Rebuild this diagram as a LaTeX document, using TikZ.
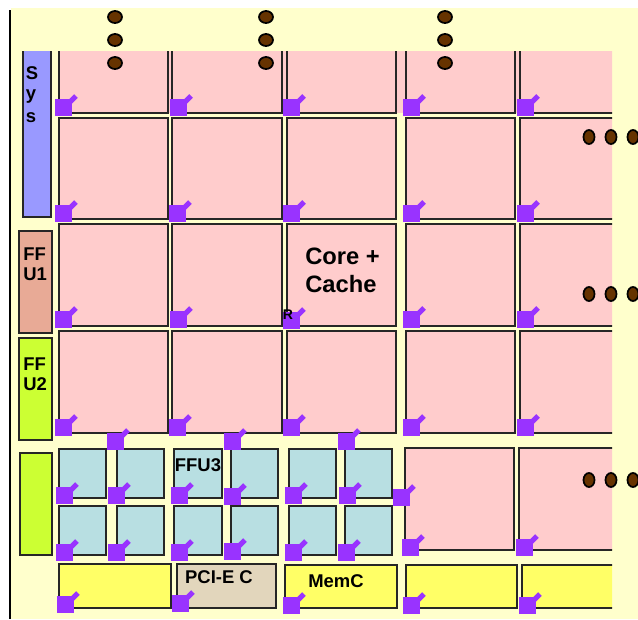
\documentclass[tikz,border=0pt]{standalone}
\usepackage{fontspec}
\setmainfont{Liberation Sans}
\usepackage{tikz}
\definecolor{dieCream}{HTML}{FFFFCC}
\definecolor{corePink}{HTML}{FFCCCC}
\definecolor{sysBlue}{HTML}{9999FF}
\definecolor{ffuSalmon}{HTML}{E8AA96}
\definecolor{ffuLime}{HTML}{CCFF33}
\definecolor{tileBlue}{HTML}{B8DFE2}
\definecolor{ctrlYellow}{HTML}{FFFF66}
\definecolor{pciTan}{HTML}{E2D6BC}
\definecolor{routerPurple}{HTML}{9933FF}
\definecolor{dotBrown}{HTML}{663300}

\begin{document}
\begin{tikzpicture}[
  x=0.02cm, y=-0.02cm,
  block/.style={draw=black!85, line width=1.15pt},
  stub/.style={draw=routerPurple, line width=2.9pt},
  dot/.style={draw=black, fill=dotBrown, line width=1pt},
  label/.style={font=\fontsize{10.5}{11.5}\selectfont\bfseries, text=black, inner sep=0pt, align=left},
  biglabel/.style={font=\fontsize{13.5}{15.8}\selectfont\bfseries, text=black, inner sep=0pt, align=left}
]
  \useasboundingbox (0,0) rectangle (638,619);
  \fill[dieCream] (11,8) rectangle (638,619);
  \draw[black, line width=1pt] (10,10) -- (10,619);

  % Everything cut off by the window
  \begin{scope}
    \clip (11,51) rectangle (612,619);
    \fill[corePink] (59,51) rectangle (612,113);
    \foreach \xa/\xb in {59/168,172/282,287/396,406/515,520/640} {
      \filldraw[block, fill=corePink] (\xa,30) rectangle (\xb,113);
      \filldraw[block, fill=corePink] (\xa,118) rectangle (\xb,219);
      \filldraw[block, fill=corePink] (\xa,224) rectangle (\xb,326);
      \filldraw[block, fill=corePink] (\xa,331) rectangle (\xb,433);
    }
    \foreach \xa/\xb in {405/514,519/640} {
      \filldraw[block, fill=corePink] (\xa,448) rectangle (\xb,550);
    }
    \filldraw[block, fill=sysBlue] (23,30) rectangle (51,217);
    \filldraw[block, fill=ctrlYellow] (406,565) rectangle (517,608);
    \filldraw[block, fill=ctrlYellow] (522,565) rectangle (640,608);
  \end{scope}

  % Side blocks
  \filldraw[block, fill=ffuSalmon] (19,231) rectangle (52,333);
  \filldraw[block, fill=ffuLime] (19,338) rectangle (52,440);
  \filldraw[block, fill=ffuLime] (20,453) rectangle (52,555);

  % FFU3 tiles
  \foreach \xa/\xb in {59/106,117/164,174/222,231/278,289/336,345/392} {
    \filldraw[block, fill=tileBlue] (\xa,449) rectangle (\xb,498);
    \filldraw[block, fill=tileBlue] (\xa,506) rectangle (\xb,555);
  }

  % Controllers
  \filldraw[block, fill=ctrlYellow] (59,564) rectangle (171,608);
  \filldraw[block, fill=pciTan] (177,564) rectangle (276,608);
  \filldraw[block, fill=ctrlYellow] (285,565) rectangle (397,608);

  % Routers
  \foreach \x/\y in {55/99,170/99,283/99,403/99,517/99,
                     55/205,169/205,283/205,403/205,517/205,
                     55/311,170/311,283/312,403/311,517/311,
                     55/419,169/419,283/419,403/419,517/419,
                     107/433,224/433,338/433,
                     56/487,108/487,171/487,224/488,285/487,339/487,
                     56/544,108/544,171/544,224/543,285/544,338/544,
                     393/489,402/539,516/539,
                     57/596,172/595,283/597,403/597,519/597} {
    \draw[stub] (\x+13,\y+5) -- (\x+21,\y-3);
    \fill[routerPurple] (\x,\y) rectangle (\x+17,\y+17);
  }

  % Dots
  \foreach \x in {115,266,445} {
    \foreach \y in {17,40,63} {
      \filldraw[dot] (\x,\y) ellipse (7 and 6);
    }
  }
  \foreach \y in {137,294,480} {
    \foreach \x in {589,611,633} {
      \filldraw[dot] (\x,\y) ellipse (5.5 and 7);
    }
  }

  \node[label] (sysS) at (32,73) {S};
  \node[label] (sysY) at (31,97) {y};
  \node[label] (sysZ) at (31,118) {s};
  \node[label, anchor=west] (ffuA) at (23,264) {FF\\U1};
  \node[label, anchor=west] (ffuB) at (23,374) {FF\\U2};
  \node[biglabel, anchor=west] (core) at (305,270) {Core +\\Cache};
  \node[font=\fontsize{8}{9}\selectfont\bfseries, inner sep=0pt] (rtr) at (288,315) {R};
  \node[label] (ffuC) at (198,465) {FFU3};
  \node[label] (pci) at (219,577) {PCI-E C};
  \node[label] (mem) at (336,581) {MemC};
\end{tikzpicture}
\end{document}
